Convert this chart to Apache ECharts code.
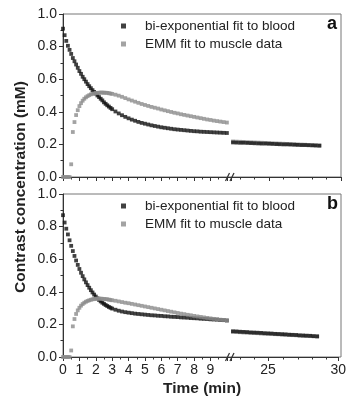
<!DOCTYPE html>
<html>
<head>
<meta charset="utf-8">
<title>Contrast concentration</title>
<script src="https://cdn.jsdelivr.net/npm/echarts@6.0.0/dist/echarts.min.js"></script>
<style>
  html, body { margin: 0; padding: 0; background: #fff; }
  #chart { width: 349px; height: 405px; }
</style>
</head>
<body>
<div id="chart"></div>
<script>
// sample times (min), left and right part of the broken axis
var timeEarly = [0, 0.1, 0.2, 0.3, 0.4, 0.5, 0.6, 0.7, 0.8, 0.9, 1.0, 1.1, 1.2, 1.3, 1.4, 1.5, 1.6, 1.7, 1.8, 1.9, 2.0,
    2.1, 2.2, 2.3, 2.4, 2.5, 2.6, 2.7, 2.8, 2.9, 3.0, 3.2, 3.4, 3.6, 3.8, 4.0, 4.2, 4.4, 4.6, 4.8, 5.0,
    5.2, 5.4, 5.6, 5.8, 6.0, 6.2, 6.4, 6.6, 6.8, 7.0, 7.2, 7.4, 7.6, 7.8, 8.0, 8.2, 8.4, 8.6, 8.8, 9.0,
    9.2, 9.4, 9.6, 9.8, 10.0];
var timeLate = [22.5, 22.75, 23, 23.25, 23.5, 23.75, 24, 24.25, 24.5, 24.75, 25, 25.25, 25.5, 25.75, 26,
    26.25, 26.5, 26.75, 27, 27.25, 27.5, 27.75, 28, 28.25, 28.5];

var seriesNames = ['bi-exponential fit to blood', 'EMM fit to muscle data'];
var panelLetters = ['a', 'b'];

// panel a
var bloodA = [0.91, 0.87, 0.835, 0.805, 0.78, 0.755, 0.73, 0.71, 0.69, 0.67, 0.65, 0.633, 0.615, 0.6, 0.585,
    0.57, 0.557, 0.545, 0.533, 0.522, 0.512, 0.5, 0.49, 0.48, 0.47, 0.458, 0.449, 0.44, 0.432, 0.424, 0.416,
    0.402, 0.39, 0.379, 0.369, 0.36, 0.352, 0.345, 0.338, 0.332, 0.327, 0.322, 0.317, 0.313, 0.309, 0.305,
    0.302, 0.299, 0.296, 0.293, 0.291, 0.289, 0.287, 0.285, 0.283, 0.281, 0.28, 0.278, 0.277, 0.276, 0.275,
    0.274, 0.273, 0.272, 0.271, 0.27];
var muscleA = [0, 0, 0, 0, 0, 0.078, 0.276, 0.337, 0.38, 0.41, 0.435, 0.453, 0.468, 0.48, 0.489, 0.496, 0.502,
    0.507, 0.51, 0.513, 0.515, 0.516, 0.517, 0.518, 0.518, 0.517, 0.517, 0.516, 0.514, 0.512, 0.51,
    0.505, 0.499, 0.492, 0.484, 0.476, 0.469, 0.462, 0.455, 0.448, 0.442, 0.436, 0.43, 0.425, 0.42, 0.414,
    0.409, 0.404, 0.399, 0.394, 0.39, 0.385, 0.381, 0.377, 0.373, 0.369, 0.365, 0.361, 0.357, 0.353, 0.35,
    0.346, 0.343, 0.34, 0.337, 0.334];
var bloodLateA = [0.212, 0.211, 0.210, 0.210, 0.209, 0.208, 0.207, 0.206, 0.205, 0.205, 0.204, 0.203, 0.202,
    0.201, 0.200, 0.200, 0.199, 0.198, 0.197, 0.196, 0.196, 0.195, 0.194, 0.193, 0.192];
var muscleLateA = [0.218, 0.217, 0.216, 0.215, 0.214, 0.213, 0.212, 0.211, 0.210, 0.209, 0.208, 0.207, 0.206,
    0.205, 0.204, 0.203, 0.202, 0.201, 0.200, 0.199, 0.198, 0.197, 0.196, 0.195, 0.194];

// panel b
var bloodB = [0.87, 0.825, 0.787, 0.752, 0.716, 0.682, 0.65, 0.62, 0.592, 0.565, 0.54, 0.517, 0.496, 0.476,
    0.458, 0.441, 0.425, 0.41, 0.396, 0.383, 0.371, 0.36, 0.35, 0.341, 0.333, 0.326, 0.319, 0.313, 0.307,
    0.302, 0.297, 0.29, 0.284, 0.279, 0.275, 0.272, 0.269, 0.266, 0.264, 0.262, 0.26, 0.258, 0.256, 0.255,
    0.253, 0.252, 0.25, 0.249, 0.247, 0.246, 0.245, 0.243, 0.242, 0.241, 0.239, 0.238, 0.237, 0.235, 0.234,
    0.233, 0.231, 0.23, 0.229, 0.227, 0.226, 0.224];
var muscleB = [0, 0, 0, 0, 0, 0.04, 0.188, 0.233, 0.264, 0.286, 0.302, 0.315, 0.325, 0.333, 0.339, 0.344, 0.348,
    0.351, 0.354, 0.356, 0.357, 0.358, 0.358, 0.358, 0.357, 0.356, 0.355, 0.354, 0.352, 0.35, 0.348,
    0.345, 0.341, 0.337, 0.333, 0.33, 0.326, 0.322, 0.318, 0.314, 0.31, 0.306, 0.302, 0.298, 0.294, 0.29,
    0.286, 0.282, 0.278, 0.274, 0.27, 0.266, 0.263, 0.259, 0.256, 0.252, 0.249, 0.246, 0.243, 0.24, 0.237,
    0.234, 0.232, 0.229, 0.227, 0.224];
var bloodLateB = [0.158, 0.157, 0.155, 0.154, 0.153, 0.151, 0.15, 0.149, 0.148, 0.146, 0.145, 0.144, 0.142,
    0.141, 0.14, 0.139, 0.137, 0.136, 0.135, 0.133, 0.132, 0.131, 0.13, 0.128, 0.127];
var muscleLateB = [0.154, 0.153, 0.152, 0.15, 0.149, 0.148, 0.147, 0.146, 0.144, 0.143, 0.142, 0.141, 0.14,
    0.139, 0.137, 0.136, 0.135, 0.134, 0.133, 0.131, 0.13, 0.129, 0.128, 0.127, 0.125];

// tick labels
var xLabelsLeft = [0, 1, 2, 3, 4, 5, 6, 7, 8, 9];
var xLabelsRight = [25, 30];
var xMinorRight = [23, 24, 26, 27, 28, 29];

var FONT = '"Liberation Sans", Arial, sans-serif';
var AXIS = '#333';
var BLACK = '#111';
var GRAY = '#8c8c8c';

var pair = function (times, values) {
    return values.map(function (v, i) { return [times[i], v]; });
};

var chart = echarts.init(document.getElementById('chart'));

var option = {
    animation: false,
    textStyle: { fontFamily: FONT },
    title: [],
    legend: [],
    grid: [],
    xAxis: [],
    yAxis: [],
    series: [],
    graphic: [{
        type: 'text',
        x: 21,
        y: 187,
        rotation: Math.PI / 2,
        style: {
            text: 'Contrast concentration (mM)',
            font: 'bold 15.5px ' + FONT,
            fill: '#222',
            textAlign: 'center',
            textVerticalAlign: 'middle'
        }
    }]
};

// one panel = frame grid + left grid (0-10 min) + right grid (after the break) + grid for minor ticks on the right
var addPanel = function (p, top, blood, muscle, bloodLate, muscleLate, showLabels) {
    var g = p * 4;
    var h = 163;

    option.grid.push(
        { left: 63, top: top, width: 278, height: h, show: true, borderColor: '#777', borderWidth: 1 },
        { left: 63, top: top, width: 168, height: h },
        { left: 231, top: top, width: 110, height: h },
        { left: 231, top: top, width: 110, height: h }
    );

    option.xAxis.push(
        {
            gridIndex: g, type: 'value', min: 0, max: 1,
            axisLine: { show: false }, axisTick: { show: false }, axisLabel: { show: false }, splitLine: { show: false },
            name: showLabels ? 'Time (min)' : '', nameLocation: 'middle', nameGap: 24,
            nameTextStyle: { fontWeight: 'bold', fontSize: 15.5, color: '#222', fontFamily: FONT }
        },
        {
            gridIndex: g + 1, type: 'value', min: 0, max: 10.25, interval: 1,
            axisLine: { show: true, lineStyle: { color: AXIS } },
            axisTick: { show: true, length: 4, lineStyle: { color: AXIS } },
            minorTick: { show: true, splitNumber: 2, length: 2.5, lineStyle: { color: AXIS } },
            axisLabel: { show: showLabels, customValues: xLabelsLeft, margin: 6, fontSize: 14, color: '#222' },
            splitLine: { show: false }
        },
        {
            gridIndex: g + 2, type: 'value', min: 22.36, max: 30,
            axisLine: { show: true, lineStyle: { color: AXIS } },
            axisTick: { show: true, customValues: xLabelsRight, length: 4, lineStyle: { color: AXIS } },
            axisLabel: { show: showLabels, customValues: xLabelsRight, margin: 6, fontSize: 14, color: '#222' },
            splitLine: { show: false }
        },
        {
            gridIndex: g + 3, type: 'value', min: 22.36, max: 30,
            axisLine: { show: false },
            axisTick: { show: true, customValues: xMinorRight, length: 2.5, lineStyle: { color: AXIS } },
            axisLabel: { show: false },
            splitLine: { show: false }
        }
    );

    option.yAxis.push(
        { gridIndex: g, type: 'value', min: 0, max: 1, show: false },
        {
            gridIndex: g + 1, type: 'value', min: 0, max: 1, interval: 0.2,
            axisLine: { show: true, lineStyle: { color: AXIS } },
            axisTick: { show: true, length: 4, lineStyle: { color: AXIS } },
            minorTick: { show: true, splitNumber: 2, length: 2.5, lineStyle: { color: AXIS } },
            axisLabel: { formatter: function (v) { return v.toFixed(1); }, margin: 6, fontSize: 14, color: '#222' },
            splitLine: { show: false }
        },
        { gridIndex: g + 2, type: 'value', min: 0, max: 1, show: false },
        { gridIndex: g + 3, type: 'value', min: 0, max: 1, show: false }
    );

    var dots = function (name, axis, data, color, size) {
        return {
            name: name, type: 'scatter', xAxisIndex: axis, yAxisIndex: axis,
            data: data, symbol: 'rect', symbolSize: size, itemStyle: { color: color }, silent: true
        };
    };
    option.series.push(
        dots(seriesNames[0], g + 1, pair(timeEarly, blood), BLACK, 3.8),
        dots(seriesNames[1], g + 1, pair(timeEarly, muscle), GRAY, 3.8),
        dots(seriesNames[1], g + 2, pair(timeLate, muscleLate), GRAY, 3.8),
        dots(seriesNames[0], g + 2, pair(timeLate, bloodLate), BLACK, 3.8)
    );

    option.legend.push({
        data: seriesNames, orient: 'vertical', left: 121, top: top + 4, padding: 0,
        itemWidth: 5, itemHeight: 5, itemGap: 2, selectedMode: false,
        textStyle: { fontSize: 13.5, lineHeight: 16, color: '#222', padding: [0, 0, 0, 14], fontFamily: FONT }
    });

    option.title.push({
        text: panelLetters[p], left: 327, top: top + 1, padding: 0,
        textStyle: { fontSize: 18, fontWeight: 'bold', color: BLACK, fontFamily: FONT }
    });

    // "//" break marks on the time axis
    var y = top + h;
    option.graphic.push(
        { type: 'line', shape: { x1: 225.5, y1: y + 4, x2: 229.5, y2: y - 4 }, style: { stroke: AXIS, lineWidth: 1.2 } },
        { type: 'line', shape: { x1: 230, y1: y + 4, x2: 234, y2: y - 4 }, style: { stroke: AXIS, lineWidth: 1.2 } }
    );
};

addPanel(0, 14, bloodA, muscleA, bloodLateA, muscleLateA, false);
addPanel(1, 194, bloodB, muscleB, bloodLateB, muscleLateB, true);

chart.setOption(option);
</script>
</body>
</html>
